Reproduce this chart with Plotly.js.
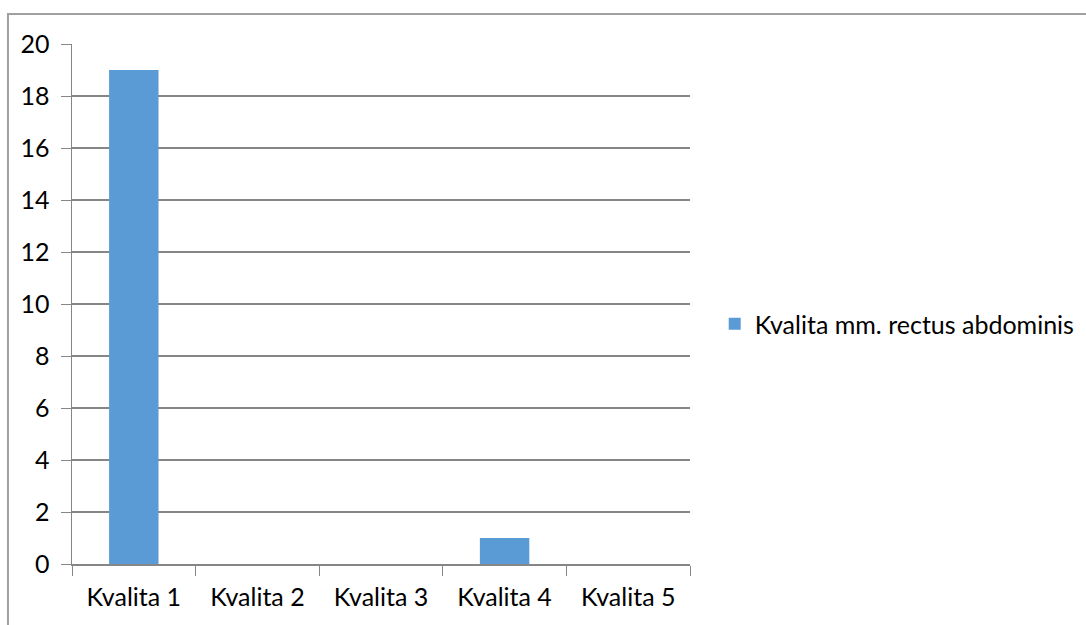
<!DOCTYPE html>
<html><head><meta charset="utf-8">
<script src="https://cdn.plot.ly/plotly-3.0.1.min.js"></script>
<style>html,body{margin:0;padding:0;background:#fff;overflow:hidden}#c{width:1086px;height:625px}</style>
</head><body><div id="c"></div>
<script>
const categories = ["Kvalita 1","Kvalita 2","Kvalita 3","Kvalita 4","Kvalita 5"];
const values = [19, 0, 0, 1, 0];
const seriesName = "Kvalita mm. rectus abdominis";
const yTicks = [0,2,4,6,8,10,12,14,16,18,20];

const font = {family: "Lato, 'Open Sans', sans-serif", size: 25, color: "#000"};
Plotly.newPlot("c", [{
  type: "bar", x: categories, y: values, name: seriesName,
  marker: {color: "#5b9bd5"}, showlegend: true
}], {
  width: 1086, height: 625,
  margin: {l: 72, r: 396, t: 44, b: 61, pad: 0, autoexpand: false},
  paper_bgcolor: "#fff", plot_bgcolor: "#fff",
  font: font,
  bargap: 0.6,
  xaxis: {type: "category", tickson: "boundaries", ticks: "outside", ticklen: 10, tickcolor: "#868686",
    showline: true, linecolor: "#868686", linewidth: 1.5, showgrid: false, tickfont: font, ticklabelstandoff: 10,
    automargin: false},
  yaxis: {range: [0, 20], tickvals: yTicks, ticks: "outside", ticklen: 10, tickcolor: "#868686",
    showline: true, linecolor: "#868686", linewidth: 1.5, gridcolor: "#868686", gridwidth: 1.2,
    zeroline: false, tickfont: font, fixedrange: true, automargin: false, ticklabelstandoff: 6},
  showlegend: true,
  legend: {x: 1.040, y: 0.4615, xanchor: "left", yanchor: "middle", font: font, bgcolor: "rgba(0,0,0,0)"},
  shapes: [{type: "rect", xref: "paper", yref: "paper", x0: -0.1036, x1: 1.7, y0: -0.2, y1: 1.0577,
    line: {color: "#a0a0a0", width: 2}, layer: "below"}]
}, {staticPlot: true});
</script></body></html>
